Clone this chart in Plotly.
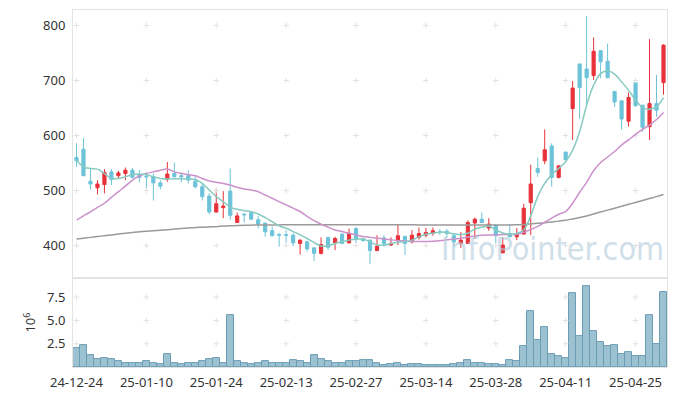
import plotly.graph_objects as go

dates = [
    "24-12-24", "24-12-26", "24-12-27", "24-12-30",
    "25-01-02", "25-01-03", "25-01-06", "25-01-07", "25-01-08", "25-01-09", "25-01-10",
    "25-01-13", "25-01-14", "25-01-15", "25-01-16", "25-01-17",
    "25-01-20", "25-01-21", "25-01-22", "25-01-23", "25-01-24",
    "25-01-31", "25-02-03", "25-02-04", "25-02-05", "25-02-06", "25-02-07",
    "25-02-10", "25-02-11", "25-02-12", "25-02-13", "25-02-14",
    "25-02-17", "25-02-18", "25-02-19", "25-02-20", "25-02-21",
    "25-02-24", "25-02-25", "25-02-26", "25-02-27", "25-02-28",
    "25-03-04", "25-03-05", "25-03-06", "25-03-07",
    "25-03-10", "25-03-11", "25-03-12", "25-03-13", "25-03-14",
    "25-03-17", "25-03-18", "25-03-19", "25-03-20", "25-03-21",
    "25-03-24", "25-03-25", "25-03-26", "25-03-27", "25-03-28",
    "25-03-31", "25-04-01", "25-04-02", "25-04-03", "25-04-04",
    "25-04-07", "25-04-08", "25-04-09", "25-04-10", "25-04-11",
    "25-04-14", "25-04-15", "25-04-16", "25-04-17", "25-04-18",
    "25-04-21", "25-04-22", "25-04-23", "25-04-24", "25-04-25",
    "25-04-28", "25-04-29", "25-04-30", "25-05-02",
]

open_ = [560, 575, 517, 505, 511, 534, 527, 531, 537, 528, 526, 525, 514, 521, 531, 527, 527, 517, 507, 490,
         461, 469, 499, 442, 457, 460, 447, 441, 427, 420, 420, 419, 404, 407, 396, 386, 415, 405, 421, 405,
         431, 413, 410, 391, 414, 401, 409, 417, 407, 415, 419, 422, 425, 426, 418, 404, 404, 441, 448, 432,
         437, 387, 422, 416, 421, 478, 540, 554, 581, 524, 570, 649, 730, 721, 709, 754, 735, 680, 663, 626,
         696, 655, 616, 658, 696]
high = [586, 595, 540, 519, 539, 539, 536, 542, 541, 537, 533, 531, 519, 552, 551, 533, 537, 525, 513, 495,
        504, 499, 540, 460, 459, 461, 454, 441, 435, 423, 428, 422, 411, 408, 397, 415, 415, 416, 421, 431,
        434, 414, 411, 419, 419, 415, 439, 417, 428, 433, 432, 433, 430, 430, 422, 425, 446, 451, 460, 450,
        438, 415, 439, 432, 476, 547, 560, 611, 586, 545, 570, 699, 730, 817, 778, 755, 767, 680, 664, 678,
        696, 656, 775, 710, 766]
low = [543, 526, 502, 493, 495, 510, 522, 519, 522, 515, 503, 482, 502, 516, 524, 515, 513, 504, 482, 457,
       460, 450, 447, 441, 442, 447, 431, 416, 417, 398, 405, 399, 384, 389, 372, 384, 392, 392, 403, 404,
       405, 407, 367, 390, 398, 399, 401, 383, 404, 411, 415, 418, 419, 414, 397, 396, 403, 412, 441, 427,
       404, 386, 415, 410, 420, 419, 525, 548, 507, 522, 555, 592, 630, 655, 701, 704, 704, 652, 611, 616,
       653, 607, 592, 634, 674]
close = [554, 527, 512, 512, 533, 520, 532, 537, 524, 524, 525, 514, 508, 530, 525, 525, 519, 507, 489, 461,
         476, 472, 455, 454, 456, 448, 439, 425, 418, 419, 419, 405, 410, 394, 386, 402, 397, 413, 404, 422,
         412, 409, 391, 399, 404, 404, 418, 404, 419, 422, 424, 427, 424, 422, 407, 410, 442, 448, 442, 439,
         418, 401, 416, 422, 468, 512, 533, 574, 524, 545, 556, 686, 687, 705, 753, 734, 705, 661, 630, 669,
         654, 615, 658, 646, 764]

volume_m = [2.07, 2.32, 1.25, 0.83, 1.0, 0.83, 0.58, 0.47, 0.47, 0.40,
            0.58, 0.47, 0.30, 1.43, 0.47, 0.30, 0.37, 0.37, 0.58, 0.90,
            1.0, 0.47, 5.58, 0.58, 0.37, 0.30, 0.47, 0.58, 0.47, 0.37,
            0.47, 0.72, 0.58, 0.47, 1.25, 0.83, 0.58, 0.47, 0.37, 0.58,
            0.58, 0.72, 0.79, 0.37, 0.19, 0.30, 0.47, 0.19, 0.30, 0.30,
            0.19, 0.19, 0.19, 0.19, 0.30, 0.37, 0.69, 0.47, 0.47, 0.30,
            0.30, 0.19, 0.69, 0.58, 2.21, 6.04, 2.85, 4.34, 1.36, 1.15,
            0.93, 7.92, 3.27, 8.66, 3.91, 2.64, 2.21, 2.32, 1.36, 1.57,
            1.15, 1.15, 5.62, 2.42, 8.03]

ma5 = [555.5, 543, 540, 539, 531, 522, 522, 525, 529, 529.5, 529, 525, 522, 521, 521.5, 521.5, 521, 520, 513, 501,
       489, 480, 470, 466, 463.5, 461.5, 457.5, 451, 443.5, 436, 431.5, 425.5, 419.5, 413, 405.5, 399.5, 399.5, 404, 407, 410,
       411.5, 412, 407, 401, 401, 404, 406, 407, 410, 416, 420.5, 422.5, 424.5, 424, 421.5, 420, 422.5, 430, 433.5, 435.5,
       428.5, 423, 420.5, 422, 428.5, 454, 489, 513, 528.5, 540.5, 552.5, 573.5, 607, 655, 691.5, 712.5, 717.5, 711.5, 697.5, 682.5,
       664.5, 651, 647.5, 652.5, 669]
ma20 = [446.5, 454, 461.5, 469.5, 477, 487.5, 498, 508, 519, 526.5, 531, 534, 537, 539, 534, 531, 529, 527, 522, 517.5,
        515, 513, 510, 506, 503, 501, 498, 492, 486, 480, 474, 468, 462, 453, 445.5, 439, 433.5, 428.5, 425.5, 422.5,
        419.5, 416.5, 415, 413.5, 412, 410.5, 409, 408.5, 407.5, 407.5, 407.5, 408, 409, 410.5, 412, 413.5, 415.5, 417.5, 419, 419.5,
        419.5, 420, 420, 420.5, 424, 429, 435, 442.5, 450, 457, 462, 477, 497, 515, 536, 551, 561, 571, 582.5, 592,
        602, 611, 619, 629, 642]
ma_long = [412, 413.5, 415, 416.5, 418, 419.5, 421, 422.5, 424, 425, 426, 427, 428, 429, 430, 431, 432, 433, 433.5, 434,
           434.5, 435.5, 436, 436.5, 437, 437, 437.5, 437.5, 437.5, 437.5, 438, 438, 438, 438, 438, 438, 438, 438, 438, 438,
           438, 438, 438, 438, 438, 438, 438, 438, 438, 437.5, 437.5, 437.5, 437.5, 437.5, 437.5, 437.5, 437.5, 437.5, 437.5, 437.5,
           437.5, 437.5, 437.5, 438, 438.5, 439.5, 440.5, 441.5, 443, 444.5, 446, 448.5, 451, 454, 457.5, 461, 464.5, 468, 471.5, 475,
           478.5, 482, 485.5, 489, 493]

price_ticks = [400, 500, 600, 700, 800]
vol_ticks = [2.5, 5.0, 7.5]
vol_tick_text = ["2.5", "5.0", "7.5"]
x_tick_vals = dates[::10]

FONT = "Noto Sans"
FRAME = "#e3e3e3"
CROSS = "#e2e2e2"

fig = go.Figure()

fig.add_trace(go.Candlestick(
    x=dates, open=open_, high=high, low=low, close=close,
    xaxis="x", yaxis="y",
    increasing=dict(line=dict(color="#e8323a", width=1), fillcolor="#e8323a"),
    decreasing=dict(line=dict(color="#6cc3d9", width=1), fillcolor="#6cc3d9"),
    whiskerwidth=0, showlegend=False,
))

fig.add_trace(go.Bar(x=dates, y=volume_m, xaxis="x2", yaxis="y2",
                     marker=dict(color="#9cc1d1", line=dict(color="#6a9db4", width=1)),
                     showlegend=False))

# grid crosses at tick intersections
px_x = [d for d in x_tick_vals for _ in price_ticks]
px_y = [v for _ in x_tick_vals for v in price_ticks]
fig.add_trace(go.Scatter(x=px_x, y=px_y, mode="markers", xaxis="x", yaxis="y",
                         marker=dict(symbol="cross-thin", size=4, line=dict(color=CROSS, width=1)),
                         hoverinfo="skip", showlegend=False))
vx_x = [d for d in x_tick_vals for _ in vol_ticks]
vx_y = [v for _ in x_tick_vals for v in vol_ticks]
fig.add_trace(go.Scatter(x=vx_x, y=vx_y, mode="markers", xaxis="x2", yaxis="y2",
                         marker=dict(symbol="cross-thin", size=4, line=dict(color=CROSS, width=1)),
                         hoverinfo="skip", showlegend=False))

fig.add_trace(go.Scatter(x=dates, y=ma_long, mode="lines", xaxis="x", yaxis="y",
                         line=dict(color="#9a9a9a", width=1.5, shape="spline"), showlegend=False))
fig.add_trace(go.Scatter(x=dates, y=ma20, mode="lines", xaxis="x", yaxis="y",
                         line=dict(color="#cc91cb", width=1.5, shape="spline"), showlegend=False))
fig.add_trace(go.Scatter(x=dates, y=ma5, mode="lines", xaxis="x", yaxis="y",
                         line=dict(color="#86cac0", width=1.5, shape="spline"), showlegend=False))

axis_common = dict(showline=True, linecolor=FRAME, linewidth=1, mirror=True,
                   showgrid=False, zeroline=False, automargin=False,
                   tickfont=dict(family=FONT, size=13, color="#333333"))

# the page body adds an 8px offset, so the figure is sized to the visible area
fig.update_layout(
    width=669, height=388,
    margin=dict(l=65, r=10, t=2, b=29),
    paper_bgcolor="white", plot_bgcolor="white",
    font=dict(family=FONT, size=13, color="#333333"),
    showlegend=False,
    bargap=0,
    boxgap=0.35,
    xaxis=dict(domain=[0, 1], anchor="y", type="category", range=[-0.5, 84.5],
               categoryorder="array", categoryarray=dates,
               showticklabels=False, ticks="", matches="x2",
               rangeslider=dict(visible=False), **axis_common),
    yaxis=dict(domain=[0.249, 1], anchor="x", range=[341, 828], tickvals=price_ticks,
               ticks="outside", ticklen=4, tickcolor="rgba(0,0,0,0)", **axis_common),
    xaxis2=dict(domain=[0, 1], anchor="y2", type="category", range=[-0.5, 84.5],
                categoryorder="array", categoryarray=dates,
                tickmode="array", tickvals=x_tick_vals, ticktext=x_tick_vals, tickangle=0,
                ticks="outside", ticklen=3, tickcolor="rgba(0,0,0,0)", **axis_common),
    yaxis2=dict(domain=[0, 0.249], anchor="x2", range=[0, 9.55], tickvals=vol_ticks,
                ticktext=vol_tick_text, ticks="outside", ticklen=4, tickcolor="rgba(0,0,0,0)",
                title=dict(text="10<sup>6</sup>", standoff=8,
                           font=dict(family=FONT, size=13, color="#333333")),
                **axis_common),
    annotations=[dict(
        text="InfoPointer.com", xref="paper", yref="paper", x=0.808, y=0.33,
        xanchor="center", yanchor="middle", showarrow=False,
        font=dict(family="DejaVu Sans Condensed", size=32, color="rgb(177,202,217)"),
        opacity=0.6,
    )],
)

fig.write_html("out.html")
